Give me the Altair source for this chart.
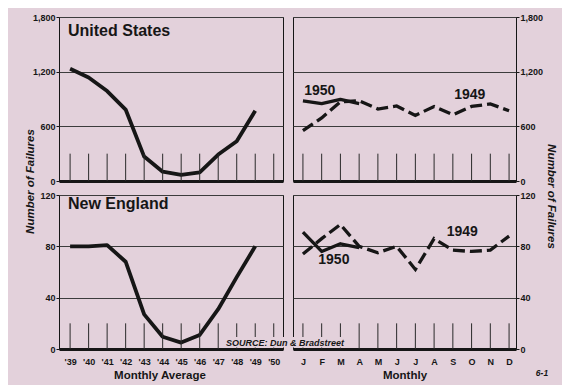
import json
import altair as alt
import pandas as pd

# ---------------- data ----------------
years = [1939, 1940, 1941, 1942, 1943, 1944, 1945, 1946, 1947, 1948, 1949]
us_annual = [1231, 1135, 987, 784, 268, 102, 67, 94, 290, 437, 770]
ne_annual = [80, 80, 81, 68, 27, 9.5, 5, 11, 31, 56, 80]
tick_years = [1939, 1940, 1941, 1942, 1943, 1944, 1945, 1946, 1947, 1948, 1949, 1950]

months = [1, 2, 3, 4, 5, 6, 7, 8, 9, 10, 11, 12]
month_labels = ["J", "F", "M", "A", "M", "J", "J", "A", "S", "O", "N", "D"]
us_1949 = [552, 692, 870, 880, 790, 824, 720, 818, 727, 818, 846, 771]
us_1950 = [880, 850, 895, 850]
ne_1949 = [74, 86, 97, 80, 75, 80, 62, 86, 77, 76, 77, 88]
ne_1950 = [91, 76, 82, 79]

us_ticks = [0, 600, 1200, 1800]
ne_ticks = [0, 40, 80, 120]

# series labels (month position, value, text)
us_lab_month = [1.9, 9.9]
us_lab_val = [990, 945]
ne_lab_month = [2.65, 9.5]
ne_lab_val = [69, 91]
lab_text = ["1950", "1949"]

BG = "#e3d1db"
INK = "#161616"
FONT = "Liberation Sans"

LW, RW = 224, 223
TH, BH = 164, 154

year_df = pd.DataFrame({"year": years, "us": us_annual, "ne": ne_annual})
ytick_df = pd.DataFrame({"year": tick_years})
m49 = pd.DataFrame({"month": months, "us": us_1949, "ne": ne_1949})
m50 = pd.DataFrame({"month": months[:len(us_1950)], "us": us_1950, "ne": ne_1950})
mtick_df = pd.DataFrame({"month": months})
us_lab = pd.DataFrame({"month": us_lab_month, "us": us_lab_val, "t": lab_text})
ne_lab = pd.DataFrame({"month": ne_lab_month, "ne": ne_lab_val, "t": lab_text})

month_expr = json.dumps(month_labels) + "[datum.value - 1]"
year_expr = "\"'\" + slice(toString(datum.value), 2)"


def xaxis(bottom, values, expr, title, title_x=None):
    if not bottom:
        return alt.Axis(values=values, grid=False, ticks=False, labels=False, domain=True,
                        domainColor=INK, domainWidth=3, title=None)
    kw = dict(
        values=values, grid=False, ticks=False, tickSize=0,
        domain=True, domainColor=INK, domainWidth=3,
        labelExpr=expr, labelOverlap=False, labelFlush=False,
        labelFont=FONT, labelFontSize=9, labelFontWeight="bold",
        labelColor=INK, labelPadding=8,
        title=title,
        titleFont=FONT, titleFontSize=11.5, titleFontWeight="bold",
        titleColor=INK, titlePadding=3,
    )
    if title_x is not None:
        kw["titleX"] = title_x
    return alt.Axis(**kw)


def yaxis(orient, values, title=None, tx=None, ty=None, angle=None):
    kw = dict(
        orient=orient, values=values, format=",.0f",
        grid=True, gridColor="#3c3c3c", gridWidth=1,
        domain=False, ticks=True, tickSize=3, tickColor=INK,
        labelFont=FONT, labelFontSize=9, labelFontWeight="bold",
        labelColor=INK, labelPadding=1, labelOverlap=False, labelFlush=False,
        title=title,
    )
    if title is not None:
        kw.update(titleFont=FONT, titleFontSize=11.5, titleFontWeight="bold",
                  titleFontStyle="italic", titleColor=INK, titleX=tx, titleY=ty,
                  titleAngle=angle, titleAlign="center", titleBaseline="middle")
    return alt.Axis(**kw)


def left_panel(field, ydom, yvals, ytick_h, height, name, name_y, bottom, ytitle=None):
    X = alt.X("year:Q", scale=alt.Scale(domain=[1938.4, 1950.5], nice=False, zero=False),
              axis=xaxis(bottom, tick_years, year_expr, "Monthly Average", 100.5))
    if ytitle:
        yax = yaxis("left", yvals, ytitle, -29, 180 - 16, -90)
    else:
        yax = yaxis("left", yvals)
    Y = alt.Y(f"{field}:Q", scale=alt.Scale(domain=ydom, nice=False), axis=yax)
    line = alt.Chart(year_df).mark_line(color=INK, strokeWidth=3.8, strokeJoin="round").encode(x=X, y=Y)
    rules = alt.Chart(ytick_df).mark_rule(color="#2a2a2a", strokeWidth=1).encode(
        x=X, y=alt.datum(0), y2=alt.datum(ytick_h))
    label = alt.Chart(pd.DataFrame({"t": [name]})).mark_text(
        align="left", baseline="alphabetic", font=FONT, fontSize=16, fontWeight="bold", color=INK
    ).encode(x=alt.value(9), y=alt.value(name_y), text="t:N")
    return alt.layer(line, rules, label).properties(width=LW, height=height)


def right_panel(field, ydom, yvals, ytick_h, height, lab_df, bottom, ytitle=None):
    X = alt.X("month:Q", scale=alt.Scale(domain=[0.47, 12.37], nice=False, zero=False),
              axis=xaxis(bottom, months, month_expr, "Monthly"))
    if ytitle:
        yax = yaxis("right", yvals, ytitle, 34, 195 - 16, 90)
    else:
        yax = yaxis("right", yvals)
    Y = alt.Y(f"{field}:Q", scale=alt.Scale(domain=ydom, nice=False), axis=yax)
    l49 = alt.Chart(m49).mark_line(color=INK, strokeWidth=3.3, strokeDash=[12, 5]).encode(x=X, y=Y)
    l50 = alt.Chart(m50).mark_line(color=INK, strokeWidth=3.3, strokeJoin="round").encode(x=X, y=Y)
    rules = alt.Chart(mtick_df).mark_rule(color="#2a2a2a", strokeWidth=1).encode(
        x=X, y=alt.datum(0), y2=alt.datum(ytick_h))
    labs = alt.Chart(lab_df).mark_text(
        font=FONT, fontSize=14, fontWeight="bold", color=INK, baseline="middle"
    ).encode(x=X, y=Y, text="t:N")
    layers = [l49, l50, rules, labs]
    if bottom:
        box = alt.Chart(pd.DataFrame({"t": ["SOURCE: Dun & Bradstreet"]})).mark_rect(
            fill=BG).encode(x=alt.value(-70), x2=alt.value(55), y=alt.value(142), y2=alt.value(152.5))
        src = alt.Chart(pd.DataFrame({"t": ["SOURCE: Dun & Bradstreet"]})).mark_text(
            align="left", baseline="alphabetic", font=FONT, fontSize=9, fontWeight="bold",
            fontStyle="italic", color=INK).encode(x=alt.value(-67), y=alt.value(151), text="t:N")
        code = alt.Chart(pd.DataFrame({"t": ["6-1"]})).mark_text(
            align="center", baseline="middle", font=FONT, fontSize=8.5, fontWeight="bold",
            fontStyle="italic", color=INK).encode(x=alt.value(249), y=alt.value(178), text="t:N")
        layers += [box, src, code]
    return alt.layer(*layers).properties(width=RW, height=height)


tl = left_panel("us", [0, 1800], us_ticks, 300, TH, "United States", 19, False, "Number of Failures")
tr = right_panel("us", [0, 1800], us_ticks, 300, TH, us_lab, False, "Number of Failures")
bl = left_panel("ne", [0, 120], ne_ticks, 20, BH, "New England", 14, True)
br = right_panel("ne", [0, 120], ne_ticks, 20, BH, ne_lab, True)

chart = alt.concat(tl, tr, bl, br, columns=2, spacing={"row": 14, "column": 10},
                   bounds="flush").properties(
    background=BG,
    padding={"left": 15, "top": 4, "right": 5, "bottom": 5},
).configure_view(stroke=INK, strokeWidth=1).configure_axis(
    labelOverlap=False, labelFlush=False
).resolve_scale(x="independent", y="independent")

chart.save("out.html", embed_options={"renderer": "svg", "actions": False})
